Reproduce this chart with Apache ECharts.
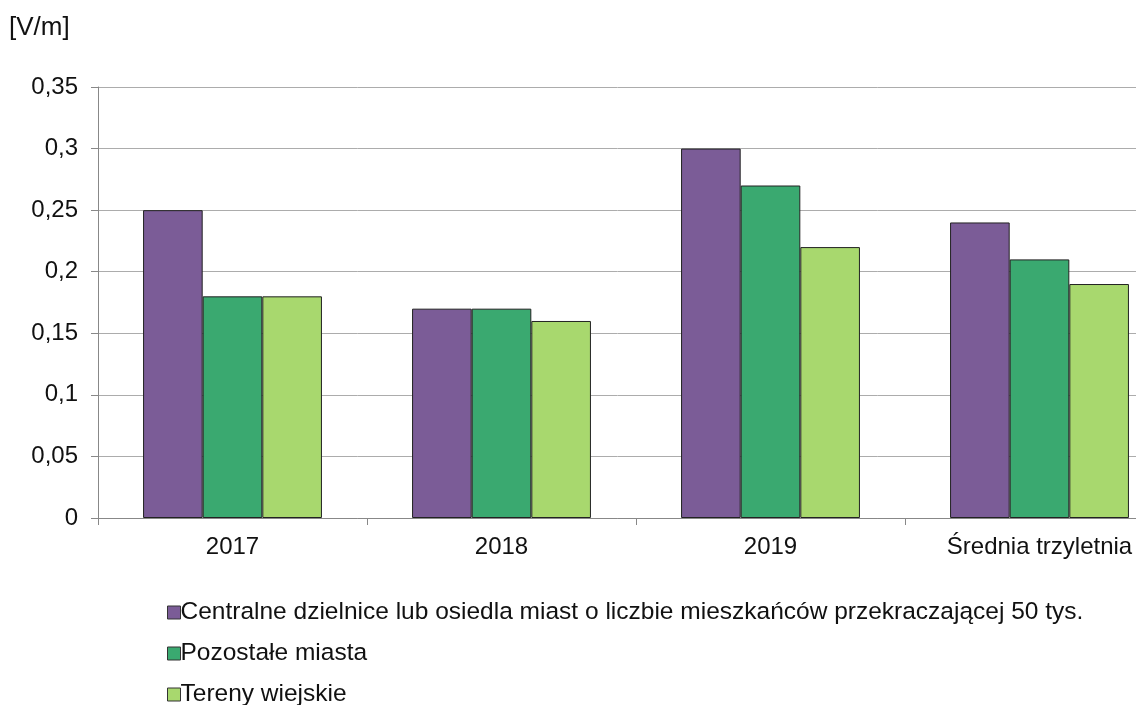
<!DOCTYPE html>
<html>
<head>
<meta charset="utf-8">
<script src="https://cdn.jsdelivr.net/npm/echarts@6/dist/echarts.min.js"></script>
<style>
  html, body { margin: 0; padding: 0; background: #fff; overflow: hidden; }
  #chart { width: 1136px; height: 705px; }
</style>
</head>
<body>
<div id="chart"></div>
<script>
// Categories and values (V/m)
const categories = ['2017', '2018', '2019', 'Średnia trzyletnia'];
const seriesNames = [
  'Centralne dzielnice lub osiedla miast o liczbie mieszkańców przekraczającej 50 tys.',
  'Pozostałe miasta',
  'Tereny wiejskie'
];
const centralValues = [0.25, 0.17, 0.30, 0.24];
const otherCityValues = [0.18, 0.17, 0.27, 0.21];
const ruralValues = [0.18, 0.16, 0.22, 0.19];
const seriesColors = ['#7B5C97', '#3AA970', '#A8D86E'];

const font = 'Liberation Sans, Arial, sans-serif';
const chart = echarts.init(document.getElementById('chart'));

const dataSets = [centralValues, otherCityValues, ruralValues];

chart.setOption({
  animation: false,
  textStyle: { fontFamily: font },
  // plot area is wider than the canvas; its right end is clipped
  grid: {
    left: 98, width: 1076, top: 87, bottom: 187,
    containLabel: false, outerBoundsMode: 'none'
  },
  graphic: [{
    type: 'text', left: 9, top: 15,
    style: { text: '[V/m]', font: '26px ' + font, fill: '#111' }
  }],
  legend: {
    orient: 'vertical',
    left: 162,
    top: 595,
    height: 110,
    itemWidth: 13,
    itemHeight: 13,
    itemGap: 16,
    icon: 'rect',
    itemStyle: { borderColor: '#333', borderWidth: 1 },
    textStyle: { fontSize: 24.5, color: '#111', fontFamily: font, padding: [0, 0, 0, -5] },
    data: seriesNames
  },
  xAxis: {
    type: 'category',
    data: categories,
    axisLine: { lineStyle: { color: '#888', width: 1 } },
    axisTick: { show: true, length: 7, lineStyle: { color: '#888' }, alignWithLabel: false },
    axisLabel: { fontSize: 24, color: '#111', margin: 17, fontFamily: font }
  },
  yAxis: {
    type: 'value',
    min: 0,
    max: 0.35,
    interval: 0.05,
    axisLine: { show: true, lineStyle: { color: '#888', width: 1 } },
    axisTick: { show: true, length: 7, inside: false, lineStyle: { color: '#888' } },
    splitLine: { lineStyle: { color: '#ACACAC', width: 1 } },
    axisLabel: {
      fontSize: 24, color: '#111', margin: 20, fontFamily: font,
      formatter: v => (Math.round(v * 100) / 100).toString().replace('.', ',')
    }
  },
  series: seriesNames.map((name, i) => ({
    name,
    type: 'bar',
    data: dataSets[i],
    barGap: '0%',
    barCategoryGap: '33.5%',
    itemStyle: { color: seriesColors[i], borderColor: '#222', borderWidth: 1 }
  }))
});
</script>
</body>
</html>
